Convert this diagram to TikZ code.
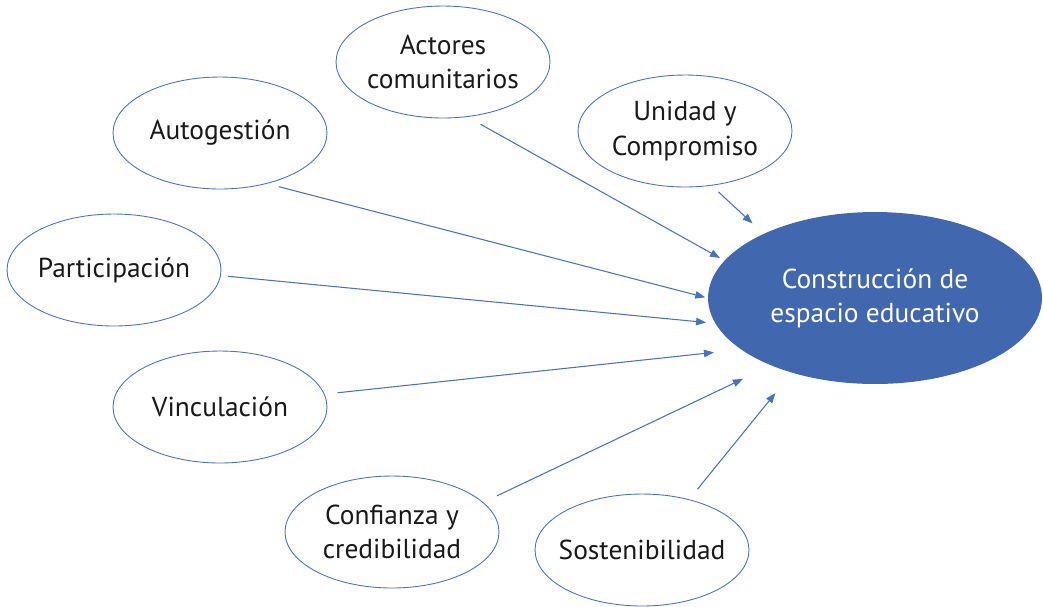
\documentclass[tikz,border=0pt]{standalone}
\usepackage{fontspec}
\setmainfont{PT Sans}
\usetikzlibrary{arrows.meta,shapes.geometric}
\definecolor{ovalblue}{HTML}{4472C4}
\definecolor{goalblue}{HTML}{4167AF}

\begin{document}
\begin{tikzpicture}[yscale=-1, x=0.02cm, y=0.02cm,
    oval/.style={ellipse, draw=ovalblue, line width=0.5pt, minimum width=4.28cm, minimum height=2.24cm,
        inner xsep=-0.5cm, inner ysep=0pt, align=center, text=black!90, font=\fontsize{15.6}{19.5}\selectfont},
    goal/.style={ellipse, fill=goalblue, minimum width=6.68cm, minimum height=3.44cm,
        inner sep=0pt, align=center, text=white, font=\fontsize{15.6}{19.5}\selectfont},
    link/.style={draw=ovalblue, line width=0.6pt, -{Triangle[length=0.2cm, width=0.15cm]}}]
    \useasboundingbox (0,0) rectangle (1043,606) ;

    \node [goal] (cons) at (875,298) {Construcción de\\espacio educativo} ;

    \node [oval] (act) at (443,62) {Actores\\comunitarios} ;
    \node [oval] (uni) at (685,131) {Unidad y\\Compromiso} ;
    \node [oval] (auto) at (220,133) {Autogestión} ;
    \node [oval] (part) at (114,270) {Participación} ;
    \node [oval] (vinc) at (220,407) {Vinculación} ;
    \node [oval] (conf) at (392,532) {Confianza y\\credibilidad} ;
    \node [oval] (sost) at (642,550) {Sostenibilidad} ;

    \draw [link, shorten <=0.3cm, shorten >=0.1cm] (act.-66) -- (cons.166) ;
    \draw [link, shorten <=0.18cm, shorten >=0.3cm] (uni.-64) -- (cons.150) ;
    \draw [link, shorten <=0.24cm, shorten >=0.05cm] (auto.-47) -- (cons.180) ;
    \draw [link, shorten <=0.14cm, shorten >=0.18cm] (part.-3.5) -- (cons.189.5) ;
    \draw [link, shorten <=0.26cm, shorten >=0.54cm] (vinc.7.4) -- (cons.201.4) ;
    \draw [link, shorten <=0.3cm, shorten >=0.62cm] (conf.18.8) -- (cons.213.4) ;
    \draw [link, shorten <=0.26cm, shorten >=0.52cm] (sost.47) -- (cons.222) ;
\end{tikzpicture}
\end{document}
